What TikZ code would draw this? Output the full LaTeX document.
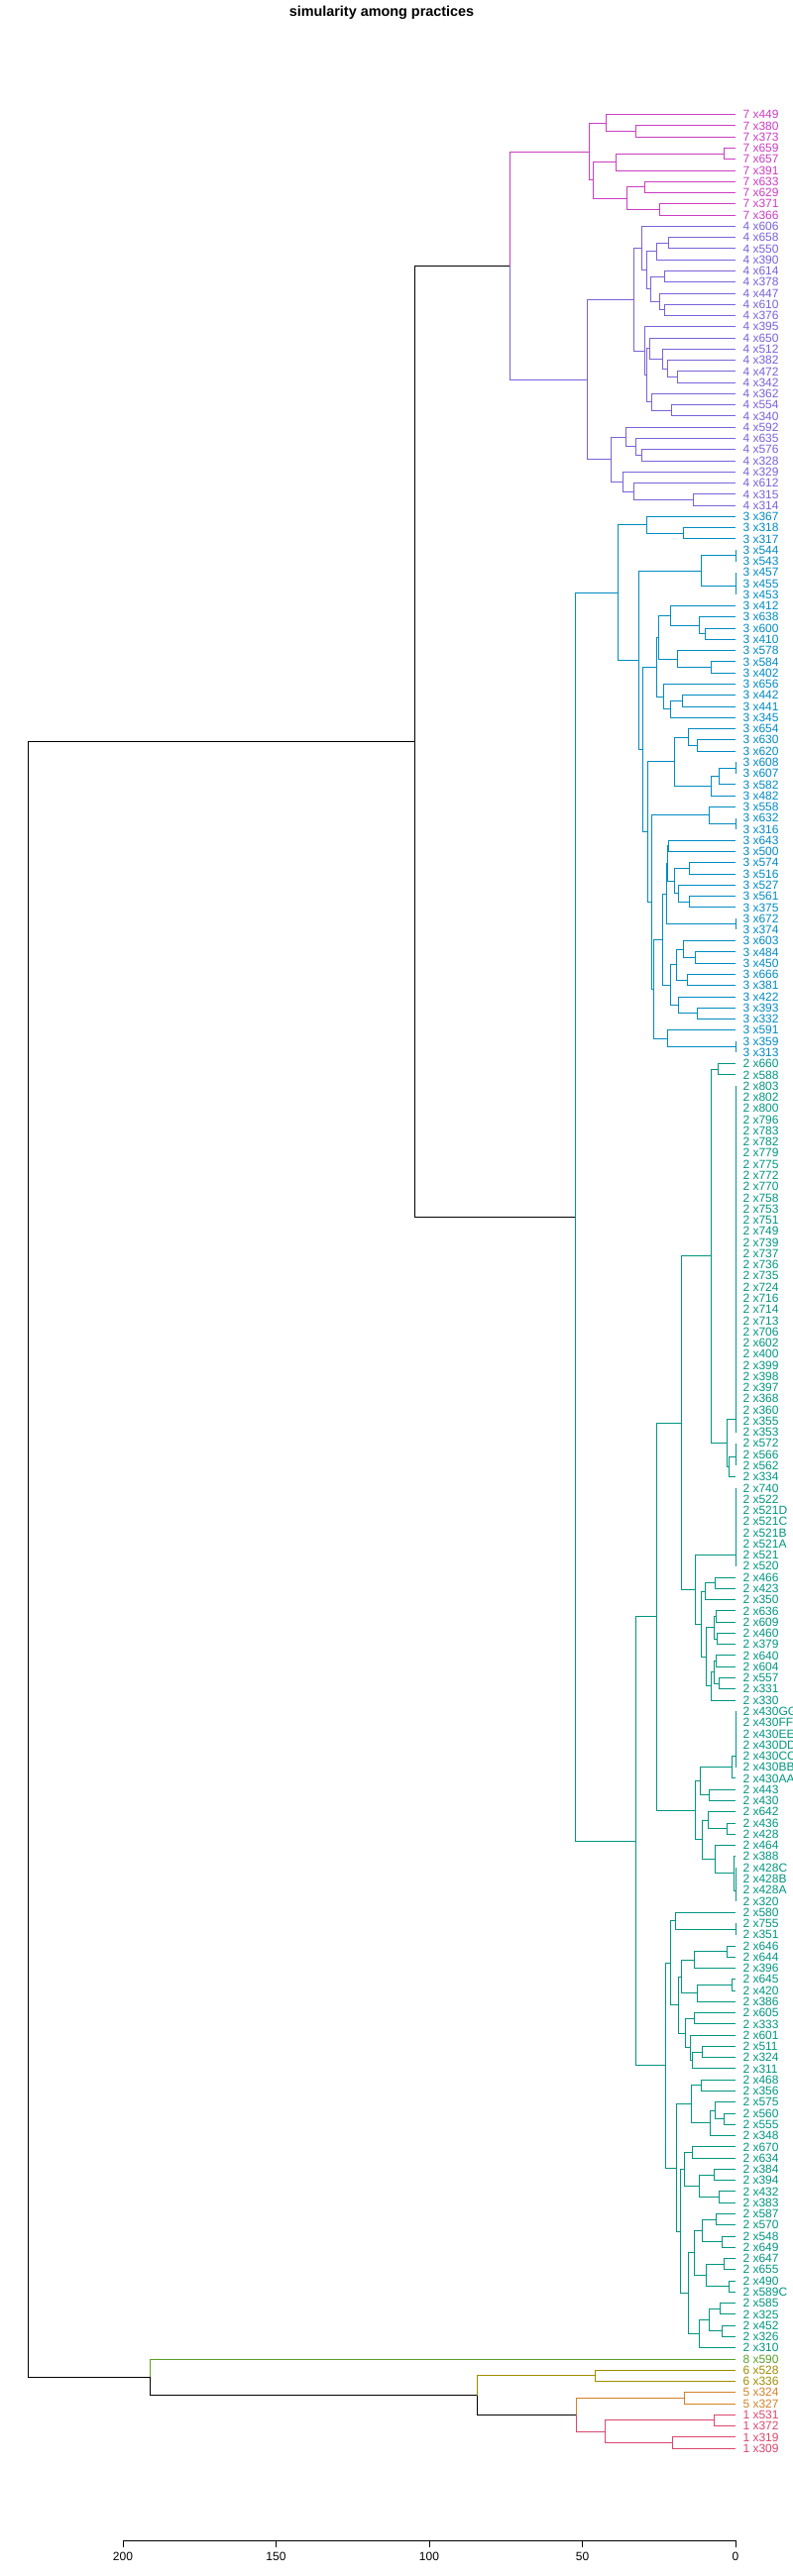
\documentclass[tikz,border=0pt]{standalone}
\usepackage{fontspec}
\setmainfont{Liberation Sans}
\usetikzlibrary{calc}

\definecolor{c7}{RGB}{204,61,195}
\definecolor{c4}{RGB}{123,97,219}
\definecolor{c3}{RGB}{0,139,195}
\definecolor{c2}{RGB}{0,150,128}
\definecolor{c8}{RGB}{90,160,40}
\definecolor{c6}{RGB}{160,140,0}
\definecolor{c5}{RGB}{210,130,40}
\definecolor{c1}{RGB}{220,70,110}

% leaves: first index, cluster number, list of ids
\newcommand\leafrow[3]{%
  \foreach \lab [count=\k from #1] in {#3} {
    \coordinate (l\k) at (742,{115.7+(\k-1)*11.27});
    \node[leaf] (t\k) at (749,{115.7+(\k-1)*11.27}) {#2 x\lab};
  }}
% merge: name, child a, child b, x of the merge, colours of the two branches
\newcommand\mrgc[6]{%
  \path let \p1=($(#2)!.5!(#3)$) in coordinate (#1) at ({#4pt},\y1);
  \draw[#5] (#1) |- (#2);
  \draw[#6] (#1) |- (#3);}
\newcommand\mrg[4]{\mrgc{#1}{#2}{#3}{#4}{}{}}
% group of identical leaves: name, first, last, y
\newcommand\zgrp[4]{%
  \coordinate (#1) at (742,#4);
  \draw (#2) -- (#3);}

\begin{document}
\begin{tikzpicture}[x=1pt, y=-1pt, line width=1pt,
    leaf/.style={anchor=west, inner sep=0pt, font=\fontsize{12}{12}\selectfont},
    tick/.style={anchor=north, inner sep=0pt, font=\fontsize{12}{12}\selectfont}
  ]
  \fill[white] (0,0) rectangle (800,2600);
  \useasboundingbox (0,0) rectangle (800,2600);

  \node[font=\bfseries\fontsize{14.4}{14.4}\selectfont] (title) at (385,13) {simularity among practices};

  % cluster 7
  \begin{scope}[color=c7]
    \leafrow{1}{7}{449,380,373,659,657,391,633,629,371,366}
    \mrg{c7a}{l2}{l3}{641.3}   \mrg{c7b}{l1}{c7a}{611.3}
    \mrg{c7c}{l4}{l5}{730.3}   \mrg{c7d}{c7c}{l6}{621.3}
    \mrg{c7e}{l7}{l8}{650.3}   \mrg{c7f}{l9}{l10}{665.3}
    \mrg{c7g}{c7e}{c7f}{632.3} \mrg{c7h}{c7d}{c7g}{598.3}
    \mrg{c7r}{c7b}{c7h}{594.3}
  \end{scope}

  % cluster 4
  \begin{scope}[color=c4]
    \leafrow{11}{4}{606,658,550,390,614,378,447,610,376,395,650,512,382,472,342,362,554,340,592,635,576,328,329,612,315,314}
    \mrg{c4a}{l12}{l13}{674.3}  \mrg{c4b}{c4a}{l14}{662.7}
    \mrg{c4c}{l15}{l16}{670.3}  \mrg{c4d}{l18}{l19}{670.3}
    \mrg{c4e}{l17}{c4d}{665.3}  \mrg{c4f}{c4c}{c4e}{656}
    \mrg{c4g}{c4b}{c4f}{652.3}  \mrg{c4h}{l11}{c4g}{647.3}
    \mrg{c4i}{l24}{l25}{683.3}  \mrg{c4j}{l23}{c4i}{673.3}
    \mrg{c4k}{l22}{c4j}{668.3}  \mrg{c4l}{l21}{c4k}{655.3}
    \mrg{c4m}{l27}{l28}{677.3}  \mrg{c4n}{l26}{c4m}{657.3}
    \mrg{c4o}{c4l}{c4n}{652.7}  \mrg{c4p}{l20}{c4o}{650.3}
    \mrg{c4q}{c4h}{c4p}{639.3}
    \mrg{c4s0}{l31}{l32}{647.3} \mrg{c4s}{l30}{c4s0}{641.3}
    \mrg{c4t}{l29}{c4s}{631.3}
    \mrg{c4u}{l35}{l36}{699.7}  \mrg{c4v}{l34}{c4u}{639.3}
    \mrg{c4w}{l33}{c4v}{628}
    \mrg{c4x}{c4t}{c4w}{616.7}
    \mrg{c4r}{c4q}{c4x}{592.3}
  \end{scope}

  % cluster 3
  \begin{scope}[color=c3]
    \leafrow{37}{3}{367,318,317,544,543,457,455,453,412,638,600,410,578,584,402,656,442,441,345,654,630,620,608,607,582,482,558,632,316,643,500,574,516,527,561,375,672,374,603,484,450,666,381,422,393,332,591,359,313}
    \mrg{c3a}{l38}{l39}{689.3}  \mrg{c3b}{l37}{c3a}{652.3}
    \mrg{c3c}{l40}{l41}{742}    \mrg{c3d0}{l42}{l43}{742}
    \mrg{c3d}{c3d0}{l44}{742}   \mrg{c3e}{c3c}{c3d}{707.3}
    \mrg{c3f}{l47}{l48}{711.3}  \mrg{c3g}{l46}{c3f}{705.3}
    \mrg{c3h}{l45}{c3g}{676.3}
    \mrg{c3i}{l50}{l51}{717.3}  \mrg{c3j}{l49}{c3i}{683.3}
    \mrg{c3k}{c3h}{c3j}{664.3}
    \mrg{c3l}{l53}{l54}{688.3}  \mrg{c3m}{c3l}{l55}{676.3}
    \mrg{c3n}{l52}{c3m}{669}
    \mrg{c3o}{c3k}{c3n}{662.7}
    \mrg{c3p}{l57}{l58}{703.3}  \mrg{c3q}{l56}{c3p}{694.3}
    \mrg{c3s0}{l59}{l60}{742}   \mrg{c3s}{c3s0}{l61}{725.3}
    \mrg{c3t}{c3s}{l62}{717.3}
    \mrg{c3D}{c3q}{c3t}{680.3}
    \mrg{c3u}{l64}{l65}{742}    \mrg{c3E}{l63}{c3u}{715.3}
    \mrg{c3v}{l66}{l67}{674.7}
    \mrg{c3w}{l68}{l69}{695.3}  \mrg{c3x}{l71}{l72}{695.3}
    \mrg{c3y}{l70}{c3x}{684}    \mrg{c3z}{c3w}{c3y}{680}
    \mrg{c3G}{c3v}{c3z}{673.3}
    \mrg{c3aa}{l73}{l74}{742}   \mrg{c3F}{c3G}{c3aa}{672.3}
    \mrg{c3ab}{l76}{l77}{701.3} \mrg{c3ac}{l75}{c3ab}{689.3}
    \mrg{c3ad}{l78}{l79}{693.3} \mrg{c3ae}{c3ac}{c3ad}{682.7}
    \mrg{c3af}{l81}{l82}{703.3} \mrg{c3ag}{l80}{c3af}{684.3}
    \mrg{c3H}{c3ae}{c3ag}{676.3}
    \mrg{c3I}{c3F}{c3H}{668.3}
    \mrg{c3ah}{l84}{l85}{742}   \mrg{c3J}{l83}{c3ah}{673.3}
    \mrg{c3K}{c3I}{c3J}{659.3}
    \mrg{c3L}{c3E}{c3K}{657.3}
    \mrg{c3M}{c3D}{c3L}{653.3}
    \mrg{c3C}{c3o}{c3M}{648.3}
    \mrg{c3B}{c3e}{c3C}{644.7}
    \mrg{c3r}{c3b}{c3B}{623}
  \end{scope}

  % cluster 2
  \begin{scope}[color=c2]
    \leafrow{86}{2}{660,588,803,802,800,796,783,782,779,775,772,770,758,753,751,749,739,737,736,735,724,716,714,713,706,602,400,399,398,397,368,360,355,353,572,566,562,334,740,522,521D,521C,521B,521A,521,520,466,423,350,636,609,460,379,640,604,557,331,330,430GG,430FF,430EE,430DD,430CC,430BB,430AA,443,430,642,436,428,464,388,428C,428B,428A,320,580,755,351,646,644,396,645,420,386,605,333,601,511,324,311,468,356,575,560,555,348,670,634,384,394,432,383,587,570,548,649,647,655,490,589C,585,325,452,326,310}
    \mrg{c2a}{l86}{l87}{724.3}
    \zgrp{c2P}{l88}{l119}{1432.7}
    \zgrp{c2Q}{l120}{l122}{1470}
    \mrg{c2b}{c2Q}{l123}{735.3}
    \mrg{c2c}{c2P}{c2b}{733.3}
    \mrg{c2N}{c2a}{c2c}{717.3}
    \zgrp{c2R}{l124}{l131}{1569.3}
    \mrg{c2d}{l132}{l133}{721.3} \mrg{c2S}{c2d}{l134}{711.3}
    \mrg{c2e}{l135}{l136}{722.7} \mrg{c2f}{l137}{l138}{723.7}
    \mrg{c2g}{c2e}{c2f}{720.3}
    \mrg{c2h}{l139}{l140}{722.7} \mrg{c2i}{l141}{l142}{725.3}
    \mrg{c2j}{c2h}{c2i}{720.3}   \mrg{c2k}{c2j}{l143}{717.3}
    \mrg{c2V}{c2g}{c2k}{712.3}
    \mrg{c2U}{c2S}{c2V}{707.3}
    \mrg{c2T}{c2R}{c2U}{701.3}
    \mrg{c2AA}{c2N}{c2T}{687.3}
    \zgrp{c2Wz}{l144}{l149}{1772.7}
    \mrg{c2W}{c2Wz}{l150}{738}
    \mrg{c2l}{l151}{l152}{715}   \mrg{c2Wp}{c2W}{c2l}{706}
    \mrg{c2m}{l154}{l155}{733.3} \mrg{c2n}{l153}{c2m}{714.7}
    \zgrp{c2Xz}{l158}{l161}{1908}
    \mrg{c2o}{l157}{c2Xz}{740.3} \mrg{c2p}{l156}{c2o}{721.3}
    \mrg{c2Z}{c2n}{c2p}{708.3}
    \mrg{c2Y}{c2Wp}{c2Z}{701.3}
    \mrg{c2BB}{c2AA}{c2Y}{662.7}
    \mrg{c2q}{l163}{l164}{742}   \mrg{c2GG}{l162}{c2q}{681.7}
    \mrg{c2r}{l165}{l166}{733.3} \mrg{c2JJ}{c2r}{l167}{700.3}
    \mrg{c2s}{l168}{l169}{738}   \mrg{c2KK}{c2s}{l170}{703.3}
    \mrg{c2LL}{c2JJ}{c2KK}{687.3}
    \mrg{c2t}{l171}{l172}{700.3}
    \mrg{c2u}{l174}{l175}{708.3} \mrg{c2NN}{c2u}{l176}{698.3}
    \mrg{c2OO}{l173}{c2NN}{696.3}
    \mrg{c2MM}{c2t}{c2OO}{691.7}
    \mrg{c2HH}{c2LL}{c2MM}{684}
    \mrg{c2EE}{c2GG}{c2HH}{676.3}
    \mrg{c2v}{l177}{l178}{707}
    \mrg{c2w}{l180}{l181}{730.3} \mrg{c2x}{l179}{c2w}{721.3}
    \mrg{c2RR}{c2x}{l182}{716}
    \mrg{c2PP}{c2v}{c2RR}{697}
    \mrg{c2y}{l183}{l184}{698.3}
    \mrg{c2z}{l185}{l186}{720}   \mrg{c2ab0}{l187}{l188}{725}
    \mrg{c2ab}{c2z}{c2ab0}{705}  \mrg{c2ac}{c2y}{c2ab}{690}
    \mrg{c2ad}{l189}{l190}{722}  \mrg{c2ae}{l191}{l192}{728}
    \mrg{c2af}{c2ad}{c2ae}{708}
    \mrg{c2ag}{l193}{l194}{730}  \mrg{c2ah}{l195}{l196}{735}
    \mrg{c2ai}{c2ag}{c2ah}{712}  \mrg{c2aj}{c2af}{c2ai}{700}
    \mrg{c2ak}{l197}{l198}{726}  \mrg{c2al}{l199}{l200}{728}
    \mrg{c2am}{c2ak}{c2al}{715}  \mrg{c2an}{c2am}{l201}{705}
    \mrg{c2ao}{c2aj}{c2an}{694}
    \mrg{c2QQ}{c2ac}{c2ao}{686}
    \mrg{c2FF}{c2PP}{c2QQ}{682.3}
    \mrg{c2DD}{c2EE}{c2FF}{671.7}
    \mrg{c2r0}{c2BB}{c2DD}{641.3}
  \end{scope}

  % small clusters
  \begin{scope}[color=c8]
    \leafrow{202}{8}{590}
  \end{scope}
  \begin{scope}[color=c6]
    \leafrow{203}{6}{528,336}
    \mrg{c6r}{l203}{l204}{600}
  \end{scope}
  \begin{scope}[color=c5]
    \leafrow{205}{5}{324,327}
    \mrg{c5r}{l205}{l206}{690}
  \end{scope}
  \begin{scope}[color=c1]
    \leafrow{207}{1}{531,372,319,309}
    \mrg{c1a}{l207}{l208}{720}
    \mrg{c1b}{l209}{l210}{678}
    \mrg{c1r}{c1a}{c1b}{610}
  \end{scope}

  % joins between clusters
  \mrgc{n74}{c7r}{c4r}{514}{c7}{c4}
  \mrgc{n32}{c3r}{c2r0}{580.3}{c3}{c2}
  \mrg{n7432}{n74}{n32}{418}
  \mrgc{n51}{c5r}{c1r}{581}{c5}{c1}
  \mrgc{n651}{c6r}{n51}{481}{c6}{}
  \mrgc{n8}{l202}{n651}{151}{c8}{}
  \mrg{root}{n7432}{n8}{28}

  % axis
  \draw (124,2564) -- (742,2564);
  \foreach \v in {0,50,...,200} {
    \draw ({742-\v*3.09},2564) -- ++(0,7.2);
    \node[tick] (v\v) at ({742-\v*3.09},2576) {\v};
  }
\end{tikzpicture}
\end{document}
